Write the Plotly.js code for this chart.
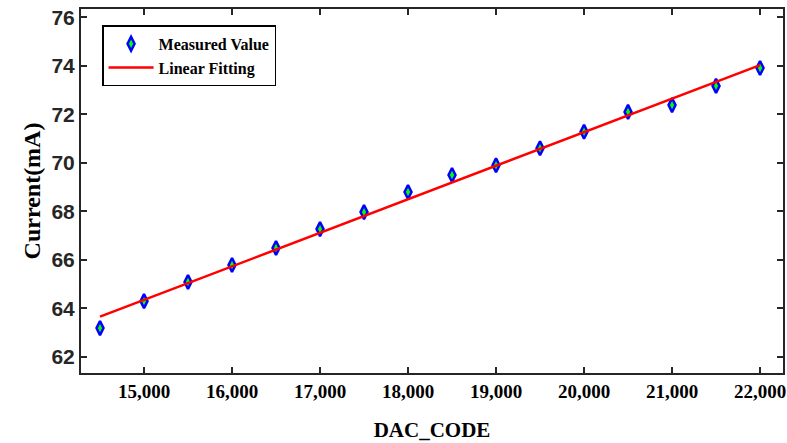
<!DOCTYPE html>
<html>
<head>
<meta charset="utf-8">
<script src="https://cdn.plot.ly/plotly-3.0.1.min.js"></script>
<style>html,body{margin:0;padding:0;background:#fff;}#chart{width:787px;height:443px;}</style>
</head>
<body>
<div id="chart"></div>
<script>
const dacCode = [14500, 15000, 15500, 16000, 16500, 17000, 17500, 18000, 18500, 19000, 19500, 20000, 20500, 21000, 21500, 22000];
const currentMA = [63.19, 64.30, 65.09, 65.79, 66.49, 67.27, 67.97, 68.80, 69.50, 69.90, 70.60, 71.28, 72.10, 72.38, 73.17, 73.91];
const fitX = [14500, 22000];
const fitY = [63.66, 74.03];
const xTicks = [15000, 16000, 17000, 18000, 19000, 20000, 21000, 22000];
const yTicks = [62, 64, 66, 68, 70, 72, 74, 76];

const traces = [
  {
    x: dacCode, y: currentMA, mode: 'markers', type: 'scatter', name: 'Measured Value',
    marker: {symbol: 'diamond-tall', size: 10, color: '#00ff00', line: {color: '#0000ff', width: 2.5}}
  },
  {
    x: fitX, y: fitY, mode: 'lines', type: 'scatter', name: 'Linear Fitting',
    line: {color: '#ff0000', width: 2.5}
  }
];

const layout = {
  width: 787, height: 443,
  margin: {l: 81, r: 4, t: 9, b: 70},
  paper_bgcolor: '#ffffff', plot_bgcolor: '#ffffff',
  showlegend: true,
  legend: {
    x: 0.03, y: 0.955, xanchor: 'left', yanchor: 'top',
    bordercolor: '#000000', borderwidth: 1.5, bgcolor: '#ffffff',
    font: {family: 'Liberation Serif, Times New Roman, serif', size: 16, color: '#000', weight: 'bold'},
    tracegroupgap: 0, itemwidth: 45
  },
  xaxis: {
    range: [14284, 22261],
    tickvals: xTicks, tickformat: ',d',
    ticks: 'inside', ticklen: 6, tickwidth: 2, tickcolor: '#262626',
    showline: true, linecolor: '#262626', linewidth: 2, mirror: 'ticks',
    showgrid: false, zeroline: false,
    tickfont: {family: 'Liberation Serif, Times New Roman, serif', size: 19, color: '#000', weight: 'bold'},
    title: {text: '<b>DAC_CODE</b>', font: {family: 'Liberation Serif, Times New Roman, serif', size: 21, color: '#000'}, standoff: 22}
  },
  yaxis: {
    range: [61.34, 76.34],
    tickvals: yTicks,
    ticks: 'inside', ticklen: 6, tickwidth: 2, tickcolor: '#262626',
    showline: true, linecolor: '#262626', linewidth: 2, mirror: 'ticks',
    showgrid: false, zeroline: false,
    tickfont: {family: 'Liberation Sans, Arial, sans-serif', size: 21, color: '#262626', weight: 'bold'},
    title: {text: '<b>Current(mA)</b>', font: {family: 'Liberation Serif, Times New Roman, serif', size: 24, color: '#000'}, standoff: 4}
  }
};

Plotly.newPlot('chart', traces, layout, {displayModeBar: false, staticPlot: true});
</script>
</body>
</html>
